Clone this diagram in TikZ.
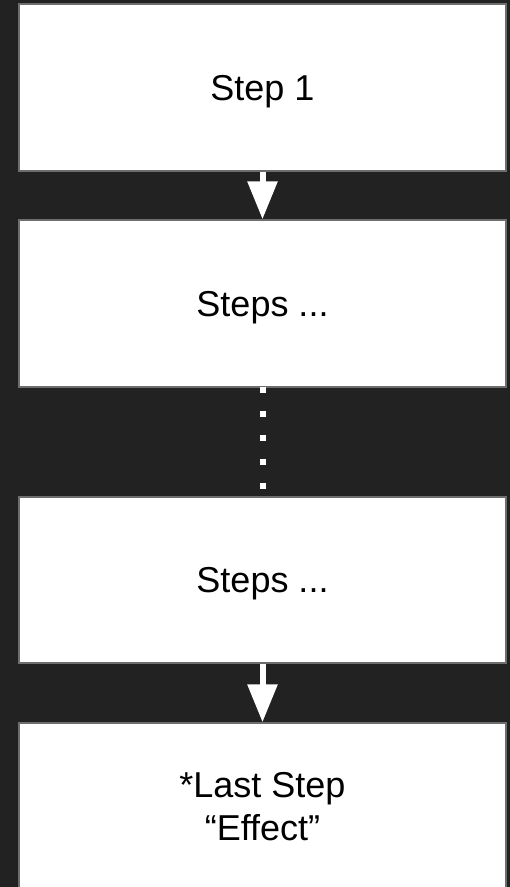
\documentclass[tikz,border=0pt]{standalone}
\usepackage{fontspec}
\setmainfont{Liberation Sans}
\usetikzlibrary{arrows.meta}
\definecolor{bgdark}{HTML}{222222}
\definecolor{boxedge}{HTML}{6E6E6E}
\tikzset{
  stepbox/.style={draw=boxedge, line width=1.5pt, fill=white, minimum width=487pt,
    inner sep=0pt, font=\fontsize{36}{43.5}\selectfont, text depth=0pt},
  lbl/.style={inner sep=0pt, font=\fontsize{36}{43.5}\selectfont, align=center},
  flowarrow/.style={draw=white, line width=6pt, -{Triangle[length=38pt,width=29pt]}},
  dotline/.style={draw=white, line width=6pt, dash pattern=on 6pt off 18pt}
}
\begin{document}
\begin{tikzpicture}[x=1pt,y=-1pt]
\fill[bgdark] (0,0) rectangle (510,887);
\useasboundingbox (0,0) rectangle (510,887);
\clip (0,0) rectangle (510,887);
\node[stepbox, minimum height=167pt] (s1) at (262.5,87.5) {Step 1};
\node[stepbox, minimum height=167pt] (s2) at (262.5,303.5) {Steps ...};
\node[stepbox, minimum height=166pt] (s3) at (262.5,580) {Steps ...};
\node[stepbox, minimum height=168pt] (s4) at (262.5,807) {};
\node[lbl] (t4) at (262.5,806.75) {*Last Step\\“Effect”};
\draw[flowarrow] (s1.south) -- (s2.north);
\draw[dotline] ([yshift=1pt]s2.south) -- (s3.north);
\draw[flowarrow] (s3.south) -- (s4.north);
\end{tikzpicture}
\end{document}
